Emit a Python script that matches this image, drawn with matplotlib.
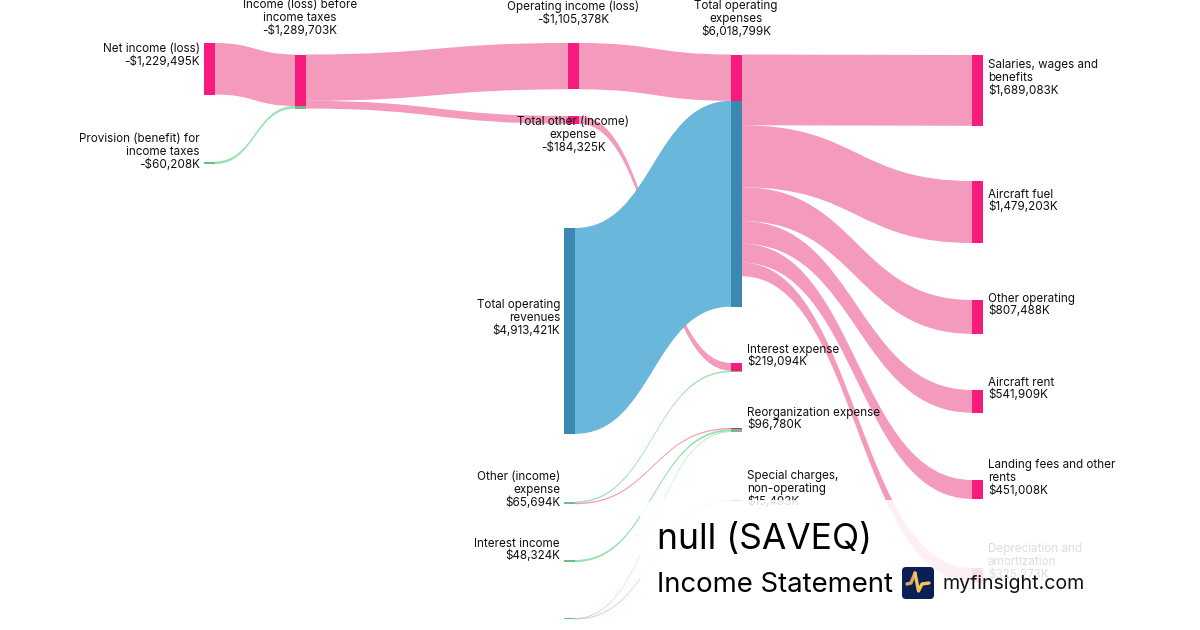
import matplotlib
matplotlib.use('Agg')
import matplotlib.pyplot as plt
from matplotlib.patches import PathPatch, Rectangle, FancyBboxPatch
from matplotlib.path import Path

plt.rcParams['font.family'] = ['Inter', 'DejaVu Sans']

# values in $K
node_names = ['net', 'provision', 'pretax', 'operating', 'other_total', 'revenue', 'opex',
              'other_income', 'interest_income', 'unnamed', 'salaries', 'fuel', 'other_op',
              'rent', 'landing', 'depreciation', 'interest_exp', 'reorg', 'special']

node_labels = ['Net income (loss)\n-$1,229,495K', 'Provision (benefit) for\nincome taxes\n-$60,208K',
               'Income (loss) before\nincome taxes\n-$1,289,703K', 'Operating income (loss)\n-$1,105,378K',
               'Total other (income)\nexpense\n-$184,325K', 'Total operating\nrevenues\n$4,913,421K',
               'Total operating\nexpenses\n$6,018,799K', 'Other (income)\nexpense\n$65,694K',
               'Interest income\n$48,324K', '', 'Salaries, wages and\nbenefits\n$1,689,083K',
               'Aircraft fuel\n$1,479,203K', 'Other operating\n$807,488K', 'Aircraft rent\n$541,909K',
               'Landing fees and other\nrents\n$451,008K', 'Depreciation and\namortization\n$325,273K',
               'Interest expense\n$219,094K', 'Reorganization expense\n$96,780K',
               'Special charges,\nnon-operating\n$15,493K']

link_source = ['net', 'provision', 'pretax', 'pretax', 'other_total', 'operating', 'revenue',
               'opex', 'opex', 'opex', 'opex', 'opex', 'opex',
               'other_income', 'other_income', 'interest_income', 'unnamed', 'unnamed']
link_target = ['pretax', 'pretax', 'operating', 'other_total', 'interest_exp', 'opex', 'opex',
               'salaries', 'fuel', 'other_op', 'rent', 'landing', 'depreciation',
               'interest_exp', 'reorg', 'reorg', 'reorg', 'special']
link_value = [1229495, 60208, 1105378, 184325, 184325, 1105378, 4913421,
              1689083, 1479203, 807488, 541909, 451008, 325273,
              34769, 30925, 48324, 17531, 15493]
link_kind = ['loss', 'gain', 'loss', 'loss', 'loss', 'loss', 'rev',
             'loss', 'loss', 'loss', 'loss', 'loss', 'loss',
             'gain', 'loss', 'gain', 'gain', 'loss']

# layout, in pixels
scale = 4.19e-5
node_w = 11
node_x = {'net': 204, 'provision': 204, 'pretax': 295, 'operating': 568, 'other_total': 568,
          'revenue': 564, 'other_income': 564, 'interest_income': 564, 'unnamed': 564, 'opex': 731,
          'interest_exp': 731, 'reorg': 731, 'special': 731, 'salaries': 972, 'fuel': 972,
          'other_op': 972, 'rent': 972, 'landing': 972, 'depreciation': 972}
node_top = {'net': 43, 'provision': 161.5, 'pretax': 54.5, 'operating': 43, 'other_total': 116,
            'revenue': 228, 'other_income': 501.5, 'interest_income': 560, 'unnamed': 618,
            'opex': 54.5, 'interest_exp': 363, 'reorg': 428, 'special': 500, 'salaries': 55,
            'fuel': 181, 'other_op': 300, 'rent': 390, 'landing': 480, 'depreciation': 568}
# anchor x, centre y, alignment
label_pos = {'net': (200, 55.5, 'right'), 'provision': (200, 152, 'right'), 'pretax': (300, 18, 'center'),
             'operating': (573, 13, 'center'), 'opex': (736, 19, 'center'), 'other_total': (573, 135, 'center'),
             'revenue': (560, 318, 'right'), 'other_income': (560, 490, 'right'), 'interest_income': (560, 550, 'right'),
             'interest_exp': (747, 356, 'left'), 'reorg': (747, 419, 'left'), 'special': (747, 489, 'left'),
             'salaries': (988, 78, 'left'), 'fuel': (988, 201, 'left'), 'other_op': (988, 305, 'left'),
             'rent': (988, 389, 'left'), 'landing': (988, 478, 'left'), 'depreciation': (988, 562, 'left')}

link_color = {'loss': '#f49abc', 'gain': '#98e2ae', 'rev': '#6ab7dc'}
node_color = {'loss': '#f71b7e', 'gain': '#6dbd88', 'rev': '#3b88b0'}

fig = plt.figure(figsize=(12, 6.3), dpi=100)
ax = fig.add_axes([0, 0, 1, 1])
ax.set_xlim(0, 1200)
ax.set_ylim(630, 0)
ax.axis('off')

out_used = {n: 0 for n in node_names}
in_used = {n: 0 for n in node_names}
has_inflow = set(link_target)

for src, tgt, val, kind in zip(link_source, link_target, link_value, link_kind):
    h = val * scale
    x0 = node_x[src] + node_w
    x1 = node_x[tgt]
    y0 = node_top[src] + out_used[src]
    y1 = node_top[tgt] + in_used[tgt]
    xm = (x0 + x1) / 2
    verts = [(x0, y0), (xm, y0), (xm, y1), (x1, y1), (x1, y1 + h),
             (xm, y1 + h), (xm, y0 + h), (x0, y0 + h), (x0, y0)]
    codes = [Path.MOVETO, Path.CURVE4, Path.CURVE4, Path.CURVE4, Path.LINETO,
             Path.CURVE4, Path.CURVE4, Path.CURVE4, Path.CLOSEPOLY]
    ax.add_patch(PathPatch(Path(verts, codes), fc=link_color[kind], ec='none', zorder=2))

    # node segments follow the inflows, or the first outflow for start nodes
    ax.add_patch(Rectangle((x1, y1), node_w, h, fc=node_color[kind], ec='none', zorder=3))
    if src not in has_inflow:
        ax.add_patch(Rectangle((node_x[src], y0), node_w, h, fc=node_color[link_kind[link_source.index(src)]],
                               ec='none', zorder=3))
    out_used[src] += h
    in_used[tgt] += h

for name, label in zip(node_names, node_labels):
    if name in label_pos:
        x, y, ha = label_pos[name]
        ax.text(x, y, label, ha=ha, va='center', multialignment=ha, fontsize=8.4,
                color='#111111', linespacing=1.05, zorder=4)

# white card behind the title
ax.add_patch(FancyBboxPatch((658, 518), 700, 300, boxstyle='round,pad=18,rounding_size=18',
                            fc='white', ec='none', alpha=0.86, zorder=5))

ax.text(657, 540, 'null (SAVEQ)', fontsize=25.5, va='center', ha='left', color='black', zorder=6)
ax.text(657, 585.5, 'Income Statement', fontsize=19.8, va='center', ha='left', color='black', zorder=6)
ax.text(943, 584, 'myfinsight.com', fontsize=14.1, va='center', ha='left', color='#111111', zorder=6)

# logo
ax.add_patch(FancyBboxPatch((905, 570), 26, 26, boxstyle='round,pad=3,rounding_size=4',
                            fc='#0b1f57', ec='none', zorder=6))
ax.plot([907, 911, 915], [584, 583, 573], color='#d9a866', lw=2.4, solid_capstyle='round',
        solid_joinstyle='round', zorder=7)
ax.plot([915, 918.5, 922, 929], [573, 591, 584, 583], color='#f5c35a', lw=2.4, solid_capstyle='round',
        solid_joinstyle='round', zorder=7)

fig.savefig('out.png', dpi=100)
